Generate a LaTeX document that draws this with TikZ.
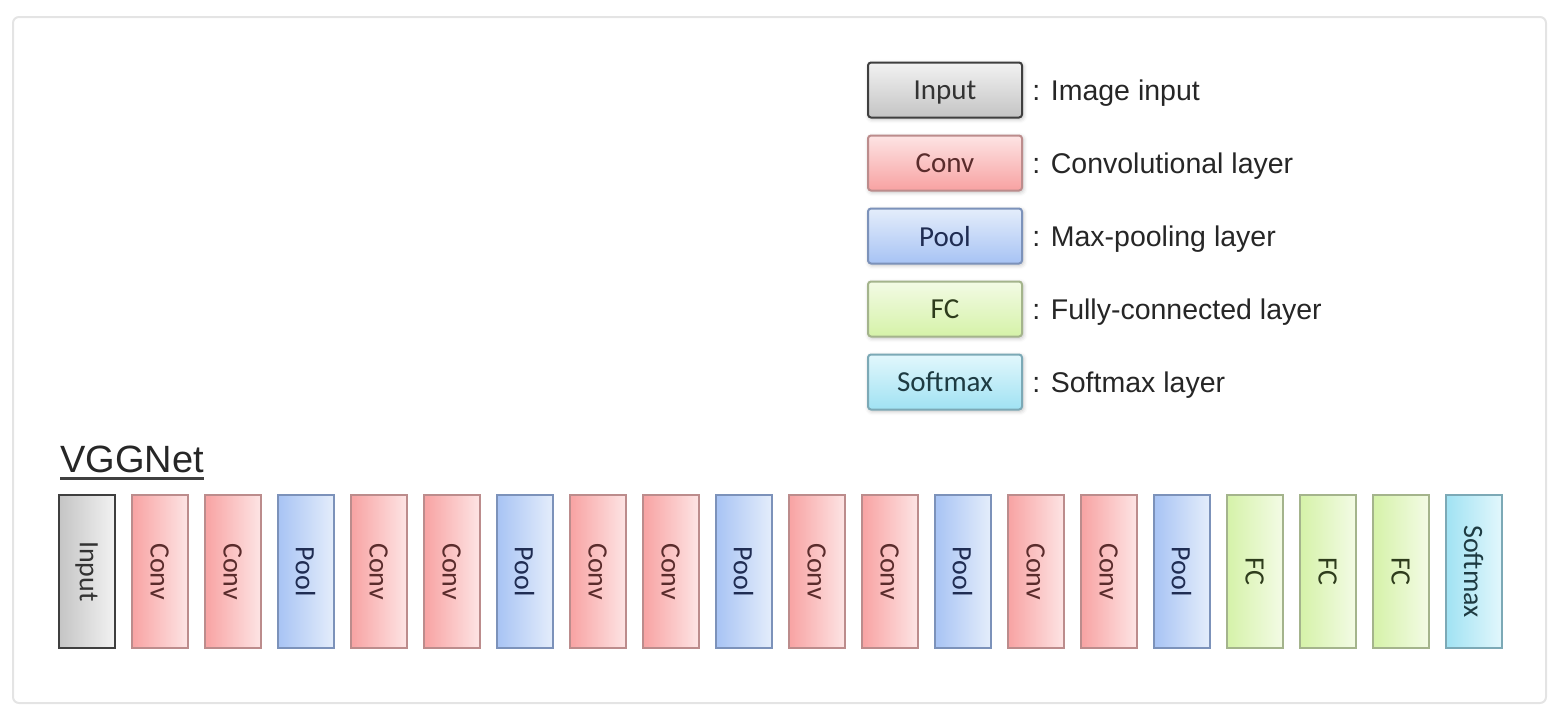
\documentclass[tikz,border=0pt]{standalone}
\usepackage{fontspec}
\setmainfont{Liberation Sans}
\newfontfamily\boxfont{Carlito}
\usepackage{xcolor}
\usepackage{tikz}
\usetikzlibrary{positioning, shadows.blur}
\definecolor{frameline}{HTML}{E4E4E4}
\definecolor{inputdark}{HTML}{C4C4C4}
\definecolor{inputlight}{HTML}{F2F2F2}
\definecolor{inputline}{HTML}{3F3F3F}
\definecolor{inputtext}{HTML}{333333}
\definecolor{convdark}{HTML}{F8A2A2}
\definecolor{convlight}{HTML}{FDE4E4}
\definecolor{convline}{HTML}{BC8C8C}
\definecolor{convtext}{HTML}{5A2C2C}
\definecolor{pooldark}{HTML}{A7C3F4}
\definecolor{poollight}{HTML}{E4EDFB}
\definecolor{poolline}{HTML}{7C92BA}
\definecolor{pooltext}{HTML}{1F2C52}
\definecolor{fcdark}{HTML}{D5F2A8}
\definecolor{fclight}{HTML}{F3FBE5}
\definecolor{fcline}{HTML}{A4B48C}
\definecolor{fctext}{HTML}{2E3C1C}
\definecolor{smdark}{HTML}{A0E2F3}
\definecolor{smlight}{HTML}{E2F7FC}
\definecolor{smline}{HTML}{7CA9B6}
\definecolor{smtext}{HTML}{1E3B42}
\newcommand{\vtext}[1]{\rotatebox{-90}{#1}}

\begin{document}
\begin{tikzpicture}[
    x=0.5pt, y=-0.5pt,
    every node/.style={font=\fontsize{14}{16}\selectfont},
    col/.style={rectangle, minimum width=28pt, minimum height=76.5pt,
                inner sep=0pt, outer sep=0pt, line width=1pt,
                font=\boxfont\fontsize{14}{16}\selectfont},
    legbox/.style={rectangle, rounded corners=1.5pt, minimum width=77pt,
                   minimum height=27.5pt, inner sep=0pt, outer sep=0pt,
                   line width=1pt, text depth=0pt,
                   font=\boxfont\fontsize{14.5}{16}\selectfont,
                   blur shadow={shadow xshift=0.6pt, shadow yshift=-0.8pt,
                                shadow blur steps=4, shadow opacity=25}},
    desc/.style={inner sep=0pt, text depth=0pt, color=black!85,
                 font=\fontsize{14.25}{16}\selectfont},
    inputcol/.style={col, draw=inputline, text=inputtext,
                     left color=inputdark, right color=inputlight},
    convcol/.style={col, draw=convline, text=convtext,
                    left color=convdark, right color=convlight},
    poolcol/.style={col, draw=poolline, text=pooltext,
                    left color=pooldark, right color=poollight},
    fccol/.style={col, draw=fcline, text=fctext,
                  left color=fcdark, right color=fclight},
    smcol/.style={col, draw=smline, text=smtext,
                  left color=smdark, right color=smlight},
    inputkey/.style={legbox, draw=inputline, text=inputtext,
                     top color=inputlight, bottom color=inputdark},
    convkey/.style={legbox, draw=convline, text=convtext,
                    top color=convlight, bottom color=convdark},
    poolkey/.style={legbox, draw=poolline, text=pooltext,
                    top color=poollight, bottom color=pooldark},
    fckey/.style={legbox, draw=fcline, text=fctext,
                  top color=fclight, bottom color=fcdark},
    smkey/.style={legbox, draw=smline, text=smtext,
                  top color=smlight, bottom color=smdark}
]
\useasboundingbox (0,0) rectangle (1558,712);
\draw[frameline, line width=1pt, rounded corners=3pt] (13,17) rectangle (1546,703);

% Legend (top right)
\node[inputkey] (keyinput) at (945,90) {Input};
\node[convkey, below=9pt of keyinput] (keyconv) {Conv};
\node[poolkey, below=9pt of keyconv] (keypool) {Pool};
\node[fckey, below=9pt of keypool] (keyfc) {FC};
\node[smkey, below=9pt of keyfc] (keysm) {Softmax};

\node[desc, right=5pt of keyinput] (descinput) {: Image input};
\node[desc, right=5pt of keyconv] (descconv) {: Convolutional layer};
\node[desc, right=5pt of keypool] (descpool) {: Max-pooling layer};
\node[desc, right=5pt of keyfc] (descfc) {: Fully-connected layer};
\node[desc, right=5pt of keysm] (descsm) {: Softmax layer};

% VGGNet layers (bottom)
\node[anchor=base west, inner sep=0pt, color=black!85,
      font=\fontsize{19}{22}\selectfont] (title) at (60,472) {VGGNet};
\draw[black!75, line width=1.3pt]
    ([yshift=-3.2pt]title.base west) -- ([yshift=-3.2pt]title.base east);

\node[inputcol] (inp) at (86.5,571.5) {\vtext{Input}};
\node[convcol, right=8.5pt of inp] (conv1) {\vtext{Conv}};
\node[convcol, right=8.5pt of conv1] (conv2) {\vtext{Conv}};
\node[poolcol, right=8.5pt of conv2] (pool1) {\vtext{Pool}};
\node[convcol, right=8.5pt of pool1] (conv3) {\vtext{Conv}};
\node[convcol, right=8.5pt of conv3] (conv4) {\vtext{Conv}};
\node[poolcol, right=8.5pt of conv4] (pool2) {\vtext{Pool}};
\node[convcol, right=8.5pt of pool2] (conv5) {\vtext{Conv}};
\node[convcol, right=8.5pt of conv5] (conv6) {\vtext{Conv}};
\node[poolcol, right=8.5pt of conv6] (pool3) {\vtext{Pool}};
\node[convcol, right=8.5pt of pool3] (conv7) {\vtext{Conv}};
\node[convcol, right=8.5pt of conv7] (conv8) {\vtext{Conv}};
\node[poolcol, right=8.5pt of conv8] (pool4) {\vtext{Pool}};
\node[convcol, right=8.5pt of pool4] (conv9) {\vtext{Conv}};
\node[convcol, right=8.5pt of conv9] (conv10) {\vtext{Conv}};
\node[poolcol, right=8.5pt of conv10] (pool5) {\vtext{Pool}};
\node[fccol, right=8.5pt of pool5] (fc1) {\vtext{FC}};
\node[fccol, right=8.5pt of fc1] (fc2) {\vtext{FC}};
\node[fccol, right=8.5pt of fc2] (fc3) {\vtext{FC}};
\node[smcol, right=8.5pt of fc3] (soft) {\vtext{Softmax}};

\end{tikzpicture}
\end{document}
